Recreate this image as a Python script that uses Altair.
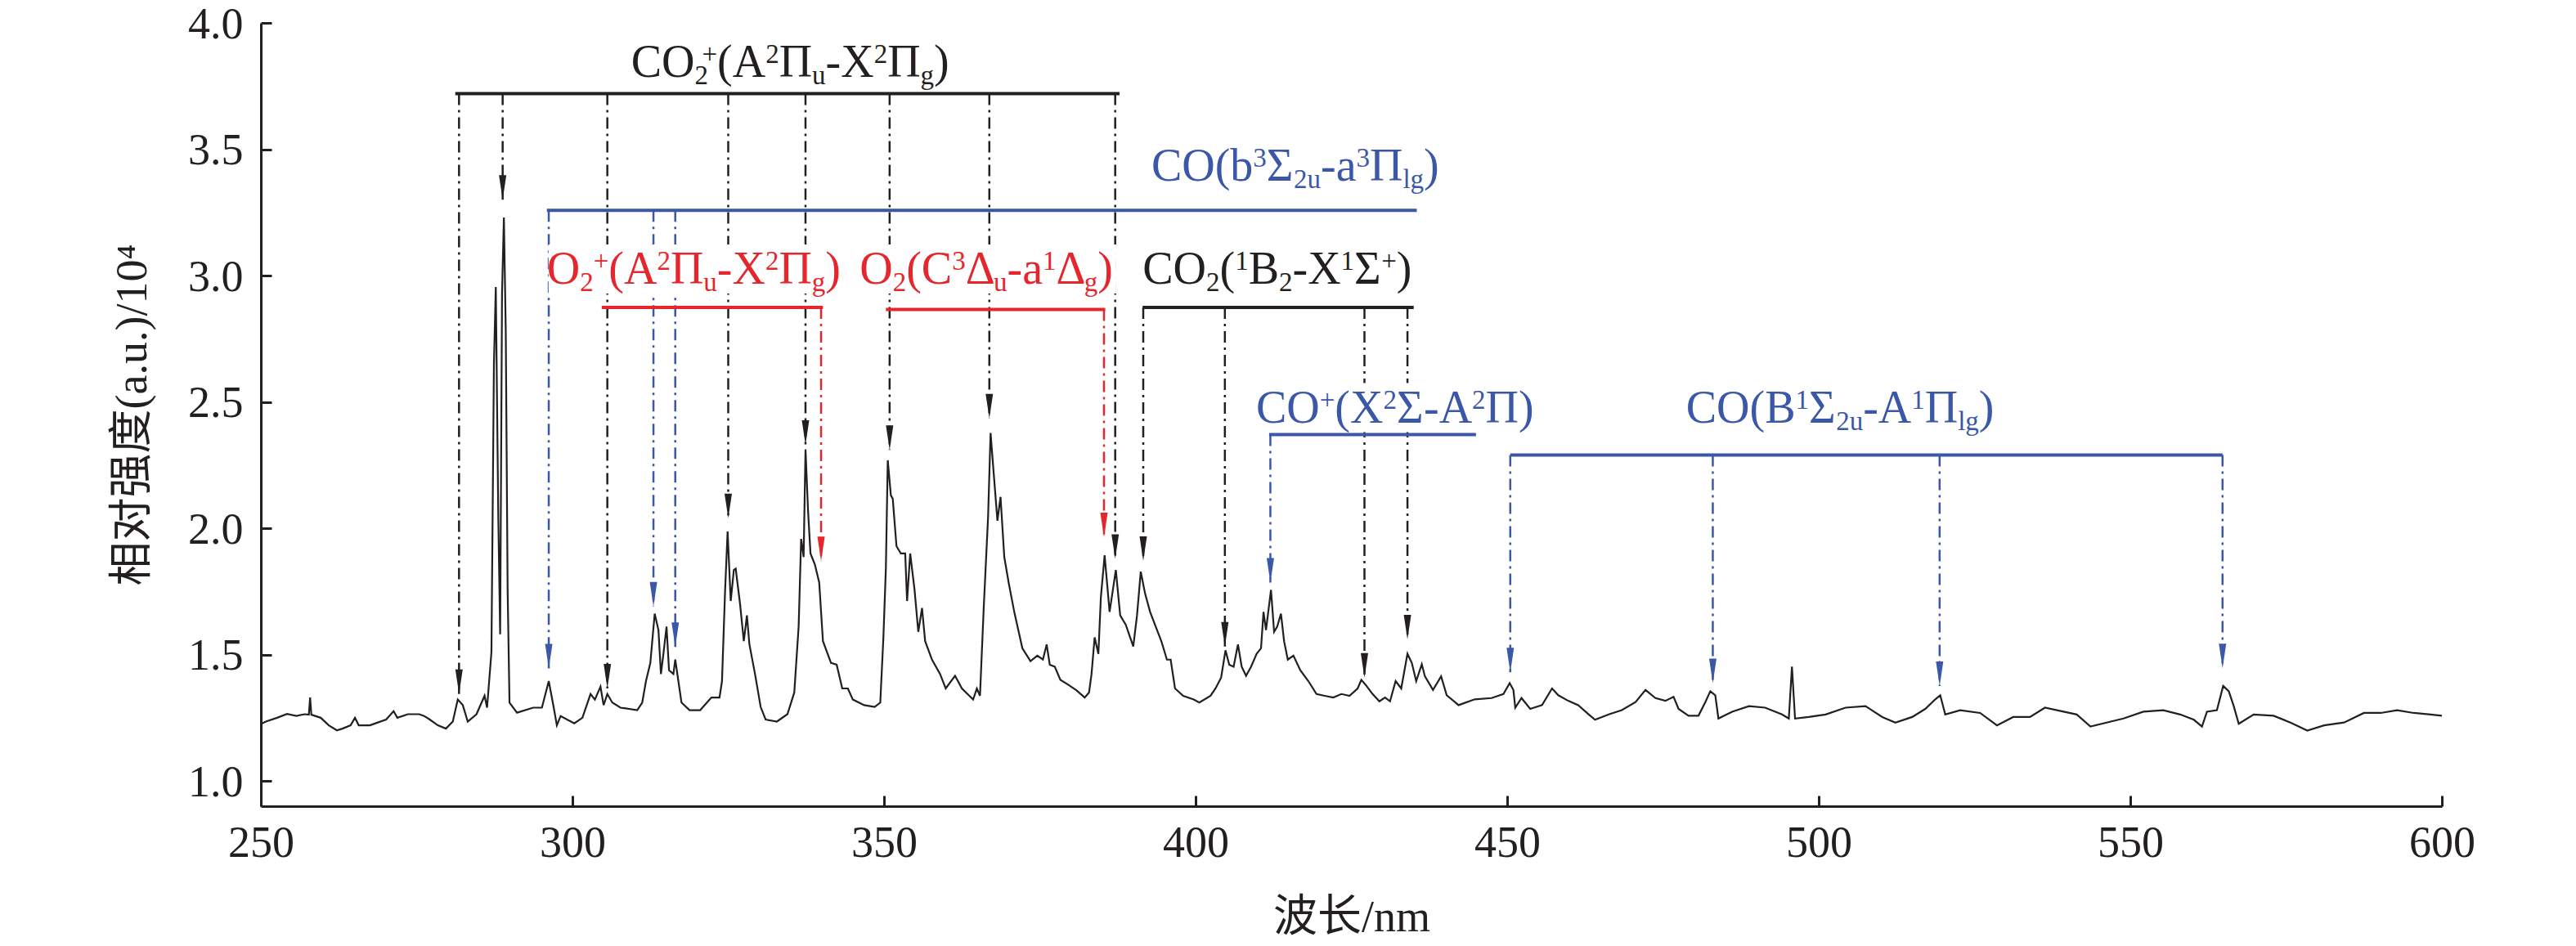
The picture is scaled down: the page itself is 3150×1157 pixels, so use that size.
import altair as alt
import pandas as pd

SERIF = "Liberation Serif, Noto Sans CJK SC"
K = "#231f20"
BLUE = "#3b57a8"
RED = "#e5262c"

# emission spectrum (nm, intensity / 1e4)
wavelength = [
    250.2, 250.9, 252.6, 254.2, 255.7, 257.0, 257.7, 257.9, 258.1, 259.6,
    260.9, 262.2, 263.1, 264.4, 265.1, 265.7, 267.5, 268.4, 270.1, 271.3,
    271.9, 273.6, 275.4, 276.2, 277.1, 278.4, 279.7, 280.8, 281.6, 282.4,
    283.2, 284.6, 285.9, 286.3, 287.0, 287.4, 287.7, 288.1, 288.4, 288.7,
    289.0, 289.3, 289.6, 289.9, 291.1, 293.7, 295.1, 296.2, 297.0, 297.5,
    298.1, 300.3, 301.6, 302.9, 303.6, 304.5, 305.0, 305.6, 306.4, 307.7,
    310.4, 311.2, 311.8, 312.5, 313.2, 313.8, 314.2, 314.6, 315.1, 315.5,
    316.2, 316.5, 317.0, 317.5, 318.8, 320.5, 322.3, 323.6, 324.0, 324.5,
    324.9, 325.4, 325.9, 326.2, 326.9, 327.5, 328.0, 328.4, 329.3, 330.2,
    331.0, 332.8, 334.5, 335.6, 336.3, 336.7, 337.1, 337.4, 337.8, 338.2,
    338.9, 339.6, 340.2, 341.5, 342.4, 343.3, 344.2, 345.0, 346.8, 348.5,
    349.4, 349.9, 350.3, 350.6, 351.1, 351.4, 352.0, 352.7, 353.4, 353.7,
    354.2, 354.9, 355.5, 356.1, 356.6, 357.7, 359.0, 359.9, 361.4, 362.5,
    364.3, 364.9, 365.4, 366.0, 366.7, 367.1, 367.6, 368.2, 368.7, 369.3,
    370.0, 370.9, 372.2, 373.5, 374.6, 375.5, 376.1, 376.6, 377.4, 378.3,
    379.6, 380.9, 382.2, 382.9, 383.3, 383.8, 384.4, 384.8, 385.4, 386.2,
    387.2, 387.9, 388.8, 389.5, 390.0, 390.6, 391.2, 391.9, 392.7, 393.6,
    394.5, 395.4, 396.0, 396.7, 398.0, 399.7, 400.6, 402.4, 403.2, 404.1,
    404.8, 405.4, 406.1, 406.8, 407.4, 408.1, 408.9, 409.8, 410.5, 410.9,
    411.3, 412.1, 412.6, 413.1, 413.7, 414.2, 414.8, 415.7, 416.8, 418.1,
    419.4, 420.7, 422.1, 423.4, 424.7, 426.0, 426.6, 427.3, 428.4, 429.5,
    430.4, 431.2, 432.1, 433.0, 434.0, 434.7, 435.4, 436.3, 436.8, 438.1,
    439.4, 440.3, 442.2, 444.8, 447.5, 449.4, 450.4, 451.0, 451.3, 452.3,
    453.7, 455.6, 457.2, 458.2, 459.8, 461.4, 463.1, 464.1, 466.3, 468.4,
    470.6, 472.2, 473.8, 475.4, 476.7, 477.5, 479.1, 480.7, 481.8, 482.6,
    483.4, 483.9, 486.1, 488.8, 491.4, 494.1, 495.2, 495.7, 496.2, 498.4,
    501.1, 504.3, 507.5, 510.2, 512.3, 515.0, 517.1, 518.7, 519.5, 520.3,
    522.7, 525.9, 528.6, 531.2, 533.9, 536.3, 539.3, 541.4, 543.6, 546.2,
    548.9, 552.1, 555.3, 558.0, 560.2, 561.5, 562.3, 563.9, 564.9, 565.8,
    566.6, 567.4, 569.8, 573.0, 575.7, 578.4, 581.1, 584.3, 587.5, 590.2,
    592.8, 595.5, 598.2, 600.0,
]
intensity = [
    1.228, 1.236, 1.250, 1.265, 1.257, 1.264, 1.262, 1.330, 1.262, 1.250,
    1.220, 1.200, 1.207, 1.220, 1.250, 1.220, 1.220, 1.228, 1.243, 1.276,
    1.250, 1.264, 1.264, 1.257, 1.243, 1.220, 1.207, 1.235, 1.322, 1.300,
    1.235, 1.264, 1.337, 1.290, 1.510, 2.650, 2.955, 2.045, 1.580, 2.930,
    3.230, 2.780, 1.756, 1.310, 1.270, 1.290, 1.290, 1.395, 1.290, 1.220,
    1.257, 1.228, 1.250, 1.344, 1.322, 1.373, 1.300, 1.344, 1.310, 1.290,
    1.280, 1.310, 1.395, 1.467, 1.662, 1.597, 1.423, 1.503, 1.611, 1.438,
    1.423, 1.480, 1.395, 1.310, 1.280, 1.280, 1.330, 1.330, 1.395, 1.756,
    1.987, 1.712, 1.835, 1.840, 1.700, 1.553, 1.655, 1.540, 1.423, 1.293,
    1.243, 1.235, 1.264, 1.350, 1.611, 1.958, 1.886, 2.312, 2.074, 1.900,
    1.857, 1.785, 1.553, 1.467, 1.460, 1.366, 1.366, 1.322, 1.300, 1.293,
    1.310, 1.568, 1.842, 2.269, 2.130, 2.117, 1.929, 1.900, 1.900, 1.712,
    1.900, 1.756, 1.590, 1.684, 1.553, 1.480, 1.423, 1.366, 1.416, 1.366,
    1.322, 1.366, 1.337, 1.684, 2.045, 2.377, 2.218, 2.030, 2.124, 1.886,
    1.785, 1.669, 1.525, 1.474, 1.496, 1.480, 1.540, 1.460, 1.452, 1.400,
    1.380, 1.358, 1.330, 1.350, 1.423, 1.568, 1.503, 1.727, 1.893, 1.669,
    1.835, 1.655, 1.618, 1.568, 1.532, 1.655, 1.828, 1.741, 1.669, 1.611,
    1.553, 1.480, 1.480, 1.366, 1.337, 1.322, 1.310, 1.337, 1.366, 1.409,
    1.517, 1.460, 1.452, 1.540, 1.452, 1.416, 1.452, 1.503, 1.525, 1.669,
    1.597, 1.756, 1.590, 1.611, 1.662, 1.553, 1.480, 1.496, 1.438, 1.395,
    1.344, 1.337, 1.330, 1.344, 1.337, 1.366, 1.400, 1.380, 1.344, 1.315,
    1.330, 1.315, 1.395, 1.366, 1.503, 1.467, 1.395, 1.462, 1.414, 1.360,
    1.414, 1.339, 1.300, 1.323, 1.328, 1.344, 1.387, 1.360, 1.290, 1.328,
    1.285, 1.300, 1.366, 1.339, 1.317, 1.300, 1.263, 1.242, 1.263, 1.280,
    1.312, 1.360, 1.328, 1.317, 1.333, 1.285, 1.258, 1.258, 1.312, 1.355,
    1.339, 1.247, 1.274, 1.296, 1.290, 1.263, 1.247, 1.452, 1.247, 1.253,
    1.263, 1.290, 1.296, 1.253, 1.231, 1.253, 1.285, 1.323, 1.339, 1.263,
    1.280, 1.269, 1.220, 1.253, 1.253, 1.290, 1.274, 1.263, 1.215, 1.231,
    1.247, 1.274, 1.280, 1.263, 1.242, 1.215, 1.274, 1.280, 1.376, 1.355,
    1.296, 1.226, 1.263, 1.258, 1.231, 1.199, 1.220, 1.231, 1.269, 1.269,
    1.280, 1.269, 1.263, 1.258,
]

x_ticks = [250, 300, 350, 400, 450, 500, 550, 600]
y_ticks = [1.0, 1.5, 2.0, 2.5, 3.0, 3.5, 4.0]

# band assignments: bracket height/extent, marked line positions and arrow tips
band_color = [K, BLUE, RED, RED, K, BLUE, BLUE]
bracket_y = [3.72, 3.258, 2.874, 2.866, 2.874, 2.371, 2.29]
bracket_x0 = [281.2, 295.9, 304.7, 350.3, 391.5, 411.8, 450.5]
bracket_x1 = [387.8, 435.5, 340.2, 385.5, 435.0, 445.0, 564.8]
line_x = [
    [281.8, 288.8, 305.6, 325.0, 337.4, 350.9, 366.9, 387.1],
    [296.2, 313.0, 316.5],
    [339.9],
    [385.3],
    [391.6, 404.7, 427.1, 434.0],
    [412.0],
    [450.5, 483.0, 519.4, 564.8],
]
line_tip = [
    [1.344, 3.30, 1.366, 2.04, 2.33, 2.31, 2.435, 1.879],
    [1.445, 1.69, 1.53],
    [1.87],
    [1.965],
    [1.871, 1.532, 1.409, 1.56],
    [1.785],
    [1.43, 1.387, 1.376, 1.446],
]

# band labels as (text, role) pieces; role n = normal, sup, sub, stack = sup tucked over previous sub
label_parts = [
    [("CO", "n"), ("2", "sub"), ("+", "stack"), ("(A", "n"), ("2", "sup"), ("Π", "n"), ("u", "sub"),
     ("-X", "n"), ("2", "sup"), ("Π", "n"), ("g", "sub"), (")", "n")],
    [("CO(b", "n"), ("3", "sup"), ("Σ", "n"), ("2u", "sub"), ("-a", "n"), ("3", "sup"), ("Π", "n"),
     ("lg", "sub"), (")", "n")],
    [("O", "n"), ("2", "sub"), ("+", "sup"), ("(A", "n"), ("2", "sup"), ("Π", "n"), ("u", "sub"),
     ("-X", "n"), ("2", "sup"), ("Π", "n"), ("g", "sub"), (")", "n")],
    [("O", "n"), ("2", "sub"), ("(C", "n"), ("3", "sup"), ("Δ", "n"), ("u", "sub"), ("-a", "n"),
     ("1", "sup"), ("Δ", "n"), ("g", "sub"), (")", "n")],
    [("CO", "n"), ("2", "sub"), ("(", "n"), ("1", "sup"), ("B", "n"), ("2", "sub"), ("-X", "n"),
     ("1", "sup"), ("Σ", "n"), ("+", "sup"), (")", "n")],
    [("CO", "n"), ("+", "sup"), ("(X", "n"), ("2", "sup"), ("Σ", "n"), ("-A", "n"), ("2", "sup"),
     ("Π)", "n")],
    [("CO(B", "n"), ("1", "sup"), ("Σ", "n"), ("2u", "sub"), ("-A", "n"), ("1", "sup"), ("Π", "n"),
     ("lg", "sub"), (")", "n")],
]
label_x = [309.4, 392.9, 295.9, 346.1, 391.5, 409.7, 478.7]
label_y = [3.785, 3.374, 2.968, 2.968, 2.968, 2.419, 2.419]

PLOT_W, PLOT_H = 2667, 958
X_DOM, Y_DOM = [250, 600], [0.9, 4.0]
px_nm = PLOT_W / (X_DOM[1] - X_DOM[0])
px_unit = PLOT_H / (Y_DOM[1] - Y_DOM[0])
FS, FS_SMALL = 56, 33

# Times-style advance widths (em) for laying out the sub/superscript pieces
glyph_w = {"C": .667, "O": .722, "A": .722, "X": .722, "B": .667, "a": .444, "b": .5, "u": .5,
           "g": .5, "l": .278, "(": .333, ")": .333, "-": .333, "+": .564, "1": .5, "2": .5,
           "3": .5, "Π": .722, "Σ": .592, "Δ": .612}


def text_w(s, size):
    return sum(glyph_w.get(ch, 0.5) for ch in s) * size


seg_rows, box_rows = [], []
for parts, lx, ly, col in zip(label_parts, label_x, label_y, band_color):
    pos, last_sub = 0.0, (0.0, 0.0)
    for txt, role in parts:
        if role == "n":
            seg_rows.append(dict(wl=lx + pos / px_nm, I=ly, t=txt, role="n", c=col))
            pos += text_w(txt, FS)
        elif role == "stack":
            start, wsub = last_sub
            start += 0.55 * wsub
            w = text_w(txt, FS_SMALL)
            seg_rows.append(dict(wl=lx + start / px_nm, I=ly, t=txt, role="sup", c=col))
            pos = start + w
        else:
            w = text_w(txt, FS_SMALL)
            seg_rows.append(dict(wl=lx + pos / px_nm, I=ly, t=txt, role=role, c=col))
            if role == "sub":
                last_sub = (pos, w)
            pos += w
    box_rows.append(dict(wl=lx + 2 / px_nm, wl2=lx + (pos + 4) / px_nm,
                         I=ly - 12 / px_unit, I2=ly + 48 / px_unit))

seg_df = pd.DataFrame(seg_rows)
box_df = pd.DataFrame(box_rows)
spec_df = pd.DataFrame({"wl": wavelength, "I": intensity})
bracket_df = pd.DataFrame({"wl": bracket_x0, "wl2": bracket_x1, "I": bracket_y, "c": band_color})
drop_rows = []
for xs, tips, by, col in zip(line_x, line_tip, bracket_y, band_color):
    for xv, tv in zip(xs, tips):
        drop_rows.append(dict(wl=xv, I=by, I2=tv, tip=tv, c=col))
drop_df = pd.DataFrame(drop_rows)

x_axis = alt.Axis(values=x_ticks, format="d", grid=False, tickSize={"expr": "-13"}, tickWidth=3,
                  tickColor=K, domainColor=K, domainWidth=3, labelFont=SERIF, labelFontSize=54,
                  labelColor=K, labelPadding=31, labelFlush=False, titleFont=SERIF,
                  titleFontSize=54, titleFontWeight="normal", titleColor=K, titleY=152,
                  titleBaseline="alphabetic")
y_axis = alt.Axis(values=y_ticks, format=".1f", grid=False, tickSize={"expr": "-13"}, tickWidth=3,
                  tickColor=K, domainColor=K, domainWidth=3, labelFont=SERIF, labelFontSize=54,
                  labelColor=K, labelPadding=35, labelOffset=2, titleFont=SERIF, titleFontSize=54,
                  titleFontWeight="normal", titleColor=K, titleX=-157, titleY=PLOT_H / 2,
                  titleAngle=270, titleBaseline="middle", titleAlign="center")
x_enc = alt.X("wl:Q", scale=alt.Scale(domain=X_DOM, nice=False, zero=False), axis=x_axis,
              title="波长/nm")
y_enc = alt.Y("I:Q", scale=alt.Scale(domain=Y_DOM, nice=False, zero=False), axis=y_axis,
              title="相对强度(a.u.)/10⁴")
col_enc = alt.Color("c:N", scale=None)

spectrum = alt.Chart(spec_df).mark_line(color=K, strokeWidth=2.2).encode(x=x_enc, y=y_enc)

drops = alt.Chart(drop_df).mark_rule(strokeWidth=2.5, strokeDash=[14, 6, 3, 6]).encode(
    x=x_enc, y=y_enc, y2="I2:Q", color=col_enc)

boxes = alt.Chart(box_df).mark_rect(color="white").encode(x=x_enc, x2="wl2:Q", y=y_enc, y2="I2:Q")

brackets = alt.Chart(bracket_df).mark_rule(strokeWidth=4).encode(
    x=x_enc, x2="wl2:Q", y=y_enc, color=col_enc)

arrows = alt.Chart(drop_df).mark_point(
    shape="M-0.3,-2L0.3,-2L0,0Z", size=900, filled=True, opacity=1, strokeWidth=0
).encode(x=x_enc, y=alt.Y("tip:Q", scale=alt.Scale(domain=Y_DOM, nice=False, zero=False),
                          axis=y_axis, title="相对强度(a.u.)/10⁴"), fill=alt.Fill("c:N", scale=None))

main_txt = alt.Chart(seg_df).transform_filter(alt.datum.role == "n").mark_text(
    align="left", baseline="alphabetic", font=SERIF, fontSize=FS).encode(
    x=x_enc, y=y_enc, text="t:N", color=col_enc)
sup_txt = alt.Chart(seg_df).transform_filter(alt.datum.role == "sup").mark_text(
    align="left", baseline="alphabetic", font=SERIF, fontSize=FS_SMALL, dy=-17).encode(
    x=x_enc, y=y_enc, text="t:N", color=col_enc)
sub_txt = alt.Chart(seg_df).transform_filter(alt.datum.role == "sub").mark_text(
    align="left", baseline="alphabetic", font=SERIF, fontSize=FS_SMALL, dy=9).encode(
    x=x_enc, y=y_enc, text="t:N", color=col_enc)

chart = alt.layer(
    spectrum, drops, boxes, brackets, arrows, main_txt, sup_txt, sub_txt
).properties(
    width=PLOT_W, height=PLOT_H, autosize="none",
    padding={"left": 311, "top": 20, "right": 150, "bottom": 163},
).configure_view(stroke=None)

chart.save("out.html", embed_options={"renderer": "svg", "actions": False})
